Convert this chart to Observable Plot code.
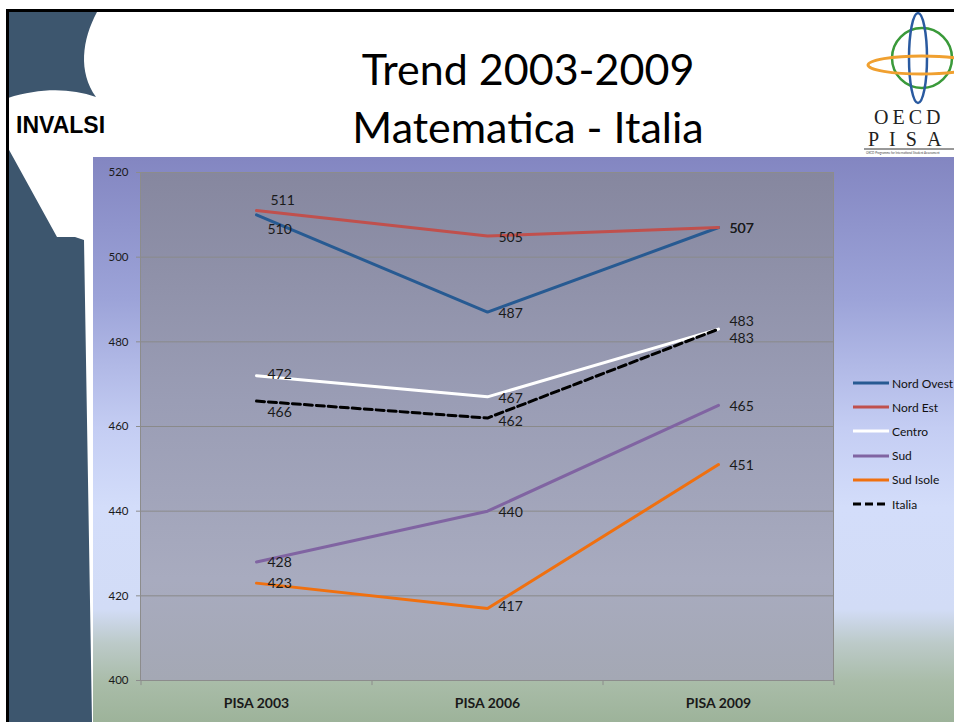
<!DOCTYPE html>
<html>
<head>
<meta charset="utf-8">
<script src="https://cdn.jsdelivr.net/npm/d3@7"></script>
<script src="https://cdn.jsdelivr.net/npm/@observablehq/plot@0.6"></script>
<style>
  html, body { margin: 0; padding: 0; background: #fff; }
  #slide { position: relative; width: 954px; height: 722px; overflow: hidden; background: #fff; font-family: Lato, sans-serif; }
  #decor { position: absolute; left: 0; top: 0; }
  #chartbg { position: absolute; left: 93px; top: 157px; width: 861px; height: 565px;
    background: linear-gradient(to bottom, #8386c1 0%, #9ca3d8 25%, #c4cdf3 48%, #d3ddfa 62%, #d2dcf6 80%, #bccac9 86%, #a9bca8 93%, #9db39a 100%); }
  #plotwrap { position: absolute; left: 0; top: 0; }
  #legend { position: absolute; left: 853px; top: 371px; font-family: Lato, sans-serif; font-size: 12px; color: #111; }
  #legend .item { display: flex; align-items: center; height: 24.2px; }
  #legend svg { display: block; margin-right: 3px; }
</style>
</head>
<body>
<div id="slide">
  <div id="chartbg"><div id="plotwrap"></div></div>
  <svg id="decor" width="954" height="722" style="pointer-events:none">
    <defs>
      <linearGradient id="plotFill" x1="0" y1="0" x2="0" y2="1">
        <stop offset="0%" stop-color="#86879f"/>
        <stop offset="45%" stop-color="#9a9db5"/>
        <stop offset="80%" stop-color="#a8abbf"/>
        <stop offset="100%" stop-color="#a4a8b4"/>
      </linearGradient>
    </defs>
    <!-- left decorative band -->
    <path d="M8,12 L97,12 C82,40 78,72 96,97 C70,88 40,88 8,98 Z" fill="#3d566e"/>
    <path d="M8,148 L57,237 L75,237 L84,240 L92,722 L8,722 Z" fill="#3d566e"/>
    <!-- slide border -->
    <line x1="7" y1="10.5" x2="954" y2="10.5" stroke="#000" stroke-width="3"/>
    <line x1="7.5" y1="9" x2="7.5" y2="722" stroke="#000" stroke-width="3"/>
    <!-- titles -->
    <text x="528" y="85" text-anchor="middle" font-family="Lato, sans-serif" font-size="43" fill="#000">Trend 2003-2009</text>
    <text x="528" y="143" text-anchor="middle" font-family="Lato, sans-serif" font-size="43" fill="#000">Matematica - Italia</text>
    <text x="16" y="133" font-family="'Liberation Sans', Arial, sans-serif" font-weight="bold" font-size="23" fill="#000">INVALSI</text>
    <!-- OECD PISA logo -->
    <g fill="none">
      <ellipse cx="922" cy="58" rx="30" ry="30" stroke="#cfcfcf" stroke-width="1.5" transform="rotate(20 922 58)"/>
      <ellipse cx="922" cy="58" rx="30" ry="30" stroke="#3a9a3a" stroke-width="2.5"/>
      <ellipse cx="918" cy="58" rx="9" ry="45" stroke="#2a5aa0" stroke-width="2.5"/>
      <ellipse cx="922" cy="65" rx="54" ry="9" stroke="#f0a030" stroke-width="3"/>
    </g>
    <text x="874" y="124" font-family="'Liberation Serif', 'DejaVu Serif', serif" font-size="20" letter-spacing="4" fill="#222">OECD</text>
    <text x="868" y="146" font-family="'Liberation Serif', 'DejaVu Serif', serif" font-size="20" letter-spacing="10" fill="#222">PISA</text>
    <line x1="864" y1="149" x2="954" y2="149" stroke="#333" stroke-width="1"/>
    <text x="866" y="154" font-family="Lato, sans-serif" font-size="3" fill="#444">OECD Programme for International Student Assessment</text>
  </svg>
  <div id="legend"></div>
</div>
<script>
// ---- data ----
const categories = ["PISA 2003", "PISA 2006", "PISA 2009"];
const seriesNames = ["Nord Ovest", "Nord Est", "Centro", "Sud", "Sud Isole", "Italia"];
const nordOvest = [510, 487, 507];
const nordEst = [511, 505, 507];
const centro = [472, 467, 483];
const sud = [428, 440, 465];
const sudIsole = [423, 417, 451];
const italia = [466, 462, 483];
const yTicks = [400, 420, 440, 460, 480, 500, 520];

// ---- styles ----
const seriesColors = ["#275a92", "#c0504d", "#ffffff", "#8064a2", "#f0700f", "#000000"];
const labelDy = {
  "Nord Ovest": [15, 1, 1],
  "Nord Est": [-10, 2, 1],
  "Centro": [-1, 2, -8],
  "Sud": [1, 1, 1],
  "Sud Isole": [0, -2, 1],
  "Italia": [11, 3, 9]
};
const labelDx = { "Nord Est": [14, 11, 11] };

const seriesValues = [nordOvest, nordEst, centro, sud, sudIsole, italia];
const rows = [];
seriesNames.forEach((s, i) => {
  categories.forEach((c, j) => rows.push({ series: s, year: c, value: seriesValues[i][j], idx: j }));
});
const solidRows = rows.filter(d => d.series !== "Italia");
const dashRows = rows.filter(d => d.series === "Italia");

const W = 861, H = 565, mL = 47, mR = 121, mT = 15, mB = 42;
const step = (W - mL - mR) / categories.length;

const labelMarks = rows.map(d => Plot.text([d], {
  x: "year", y: "value", text: d => String(d.value),
  textAnchor: "start",
  dx: (labelDx[d.series] || [11, 11, 11])[d.idx],
  dy: labelDy[d.series][d.idx],
  fontSize: 14, fill: "#1a1a1a"
}));

const chart = Plot.plot({
  width: W, height: H,
  marginLeft: mL, marginRight: mR, marginTop: mT, marginBottom: mB,
  style: { background: "transparent", fontFamily: "Lato, sans-serif", overflow: "visible" },
  x: { type: "point", domain: categories, padding: 0.5, label: null },
  y: { domain: [400, 520], label: null },
  color: { domain: seriesNames, range: seriesColors },
  marks: [
    Plot.frame({ fill: "url(#plotFill)", stroke: "none" }),
    Plot.ruleY(yTicks.slice(1, -1), { stroke: "#8a8a8a", strokeWidth: 1 }),
    Plot.frame({ stroke: "#8c8c8c", strokeWidth: 1 }),
    Plot.ruleX(categories, { x: d => d, dx: -step / 2, y1: 400, y2: 398.8, stroke: "#8c8c8c" }),
    Plot.ruleX(categories.slice(-1), { x: d => d, dx: step / 2, y1: 400, y2: 398.8, stroke: "#8c8c8c" }),
    Plot.axisY({ ticks: yTicks, tickSize: 4, tickPadding: 8, fontSize: 11.5, stroke: "#8c8c8c", fill: "#1a1a1a" }),
    Plot.axisX({ tickSize: 0, tickPadding: 18, fontSize: 14, fontWeight: "bold", fill: "#1a1a1a" }),
    Plot.line(solidRows, { x: "year", y: "value", z: "series", stroke: "series", strokeWidth: 3, strokeLinejoin: "miter" }),
    Plot.line(dashRows, { x: "year", y: "value", z: "series", stroke: "series", strokeWidth: 3, strokeDasharray: "8,4" }),
    ...labelMarks
  ]
});
document.getElementById("plotwrap").appendChild(chart);

// legend
const legend = d3.select("#legend");
seriesNames.forEach((s, i) => {
  const item = legend.append("div").attr("class", "item");
  const sv = item.append("svg").attr("width", 36).attr("height", 6);
  sv.append("line").attr("x1", 0).attr("x2", 36).attr("y1", 3).attr("y2", 3)
    .attr("stroke", seriesColors[i]).attr("stroke-width", 3)
    .attr("stroke-dasharray", s === "Italia" ? "8,4" : null);
  item.append("span").text(s);
});
</script>
</body>
</html>
